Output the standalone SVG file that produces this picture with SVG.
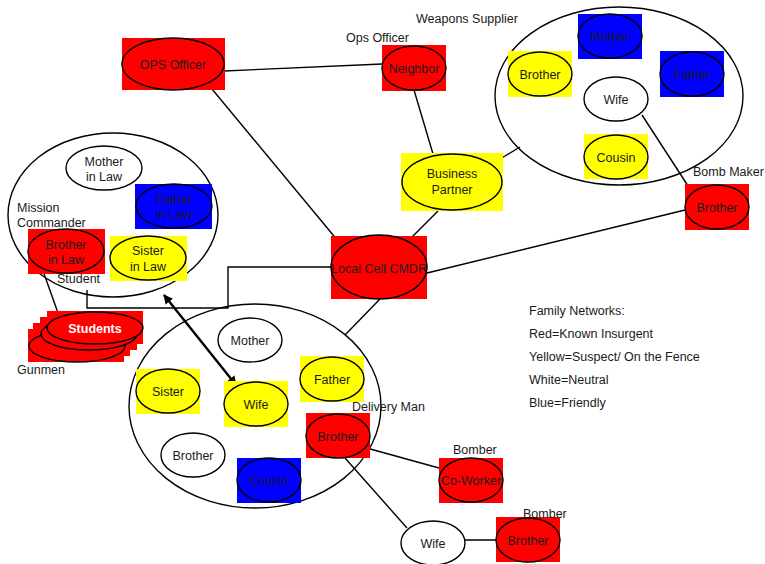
<svg xmlns="http://www.w3.org/2000/svg" width="765" height="564" viewBox="0 0 765 564">
  <defs>
    <style>
      text { font-family: "Liberation Sans", Arial, sans-serif; font-size: 12.5px; fill: #1a1a1a; }
      .c { text-anchor: middle; }
      .group { fill: #ffffff; stroke: #000; stroke-width: 1.4; }
      .node { stroke: #000; stroke-width: 1.4; }
      .red { fill: #ff0000; }
      .yel { fill: #ffff00; }
      .blu { fill: #0000ff; }
      .wht { fill: #ffffff; }
      .bg { stroke: none; }
      .link { fill: none; stroke: #000; stroke-width: 1.4; }
      .thick { fill: none; stroke: #000; stroke-width: 2.4; }
      .stu { fill: #ffffff; font-weight: bold; }
    </style>
    <marker id="head" viewBox="0 0 10 10" refX="9" refY="5" markerWidth="4" markerHeight="4" orient="auto-start-reverse" markerUnits="strokeWidth">
      <path d="M0,0 L10,5 L0,10 z" fill="#000"/>
    </marker>
  </defs>

  <!-- family circles -->
  <g id="family-mission-commander">
    <ellipse class="group" cx="113" cy="215" rx="105" ry="82"/>
    <text x="17" y="212">Mission</text>
    <text x="17" y="227">Commander</text>
  </g>
  <g id="family-weapons-supplier">
    <ellipse class="group" cx="619" cy="96" rx="124" ry="89"/>
  </g>
  <g id="family-delivery">
    <ellipse class="group" cx="255" cy="406" rx="126" ry="102"/>
  </g>

  <!-- connectors -->
  <g id="connectors">
    <line class="link" x1="224" y1="71" x2="382" y2="64"/>
    <line class="link" x1="414" y1="90" x2="433" y2="154"/>
    <line class="link" x1="490" y1="165" x2="520" y2="147"/>
    <line class="link" x1="438" y1="211" x2="407" y2="242"/>
    <line class="link" x1="207" y1="83" x2="343" y2="247"/>
    <line class="link" x1="427" y1="273" x2="685" y2="210"/>
    <line class="link" x1="380" y1="299" x2="345" y2="335"/>
    <line class="link" x1="642" y1="115" x2="692" y2="192"/>
    <line class="link" x1="363" y1="447" x2="439" y2="468"/>
    <line class="link" x1="345" y1="458" x2="407" y2="528"/>
    <line class="link" x1="464" y1="540" x2="497" y2="540"/>
    <line class="link" x1="42" y1="268" x2="58" y2="313"/>
    <path class="link" d="M87,290 V308 H228 V267 H331"/>
    <line class="thick" x1="164" y1="295" x2="236" y2="385" marker-start="url(#head)" marker-end="url(#head)"/>
  </g>

  <!-- command level -->
  <g id="ops-officer">
    <rect class="bg red" x="122" y="38" width="103" height="52"/>
    <ellipse class="node red" cx="173" cy="64" rx="51" ry="26"/>
    <text class="c" x="173" y="69">OPS Officer</text>
  </g>
  <g id="neighbor">
    <rect class="bg red" x="382" y="45" width="64" height="46"/>
    <ellipse class="node red" cx="414" cy="68" rx="32" ry="22"/>
    <text class="c" x="414" y="72.5">Neighbor</text>
    <text x="346" y="42">Ops Officer</text>
  </g>
  <g id="business-partner">
    <rect class="bg yel" x="401" y="153" width="102" height="58"/>
    <ellipse class="node yel" cx="452" cy="182" rx="50" ry="28"/>
    <text class="c" x="452" y="178">Business</text>
    <text class="c" x="452" y="194">Partner</text>
  </g>
  <g id="local-cell-cmdr">
    <rect class="bg red" x="331" y="236" width="96" height="63"/>
    <ellipse class="node red" cx="379" cy="267" rx="48" ry="32"/>
    <text class="c" x="379" y="273">Local Cell CMDR</text>
  </g>

  <!-- mission commander family -->
  <g id="mother-in-law">
    <ellipse class="node wht" cx="104" cy="168" rx="38" ry="22"/>
    <text class="c" x="104" y="166">Mother</text>
    <text class="c" x="104" y="181">in Law</text>
  </g>
  <g id="father-in-law">
    <rect class="bg blu" x="135" y="184" width="77" height="45"/>
    <ellipse class="node blu" cx="174" cy="206" rx="38" ry="22"/>
    <text class="c" x="174" y="204">Father</text>
    <text class="c" x="174" y="219">in Law</text>
  </g>
  <g id="brother-in-law">
    <rect class="bg red" x="28" y="229" width="77" height="45"/>
    <ellipse class="node red" cx="66" cy="251" rx="38" ry="22"/>
    <text class="c" x="66" y="249">Brother</text>
    <text class="c" x="66" y="264">in Law</text>
  </g>
  <g id="sister-in-law">
    <rect class="bg yel" x="110" y="236" width="77" height="45"/>
    <ellipse class="node yel" cx="148" cy="258" rx="38" ry="22"/>
    <text class="c" x="148" y="255">Sister</text>
    <text class="c" x="148" y="271">in Law</text>
  </g>
  <g id="student-label">
    <text x="57" y="283">Student</text>
  </g>

  <!-- gunmen stack: stepped backgrounds, then ellipses back to front -->
  <g id="students">
    <rect class="bg red" x="28" y="329" width="96" height="33"/>
    <rect class="bg red" x="33" y="323" width="97" height="33"/>
    <rect class="bg red" x="40" y="317" width="97" height="33"/>
    <rect class="bg red" x="47" y="311" width="96" height="33"/>
    <ellipse class="node red" cx="77" cy="346" rx="48" ry="16"/>
    <ellipse class="node red" cx="89" cy="334" rx="48" ry="16"/>
    <ellipse class="node red" cx="95" cy="328" rx="48" ry="16"/>
    <text class="c stu" x="95" y="333">Students</text>
    <text x="17" y="374">Gunmen</text>
  </g>

  <!-- weapons supplier family -->
  <g id="ws-mother">
    <rect class="bg blu" x="578" y="14" width="64" height="45"/>
    <ellipse class="node blu" cx="610" cy="36" rx="32" ry="22"/>
    <text class="c" x="610" y="41">Mother</text>
    <text x="416" y="23">Weapons Supplier</text>
  </g>
  <g id="ws-brother">
    <rect class="bg yel" x="508" y="51" width="64" height="46"/>
    <ellipse class="node yel" cx="540" cy="74" rx="32" ry="22"/>
    <text class="c" x="540" y="79">Brother</text>
  </g>
  <g id="ws-father">
    <rect class="bg blu" x="660" y="51" width="64" height="46"/>
    <ellipse class="node blu" cx="692" cy="74" rx="32" ry="22"/>
    <text class="c" x="692" y="79">Father</text>
  </g>
  <g id="ws-wife">
    <ellipse class="node wht" cx="616" cy="99" rx="32" ry="22"/>
    <text class="c" x="616" y="104">Wife</text>
  </g>
  <g id="ws-cousin">
    <rect class="bg yel" x="584" y="134" width="64" height="45"/>
    <ellipse class="node yel" cx="616" cy="157" rx="32" ry="22"/>
    <text class="c" x="616" y="162">Cousin</text>
  </g>
  <g id="bomb-maker">
    <rect class="bg red" x="685" y="184" width="64" height="46"/>
    <ellipse class="node red" cx="717" cy="207" rx="32" ry="22"/>
    <text class="c" x="717" y="212">Brother</text>
    <text x="693" y="176">Bomb Maker</text>
  </g>

  <!-- delivery family -->
  <g id="d-mother">
    <ellipse class="node wht" cx="250" cy="340" rx="32" ry="22"/>
    <text class="c" x="250" y="345">Mother</text>
  </g>
  <g id="d-sister">
    <rect class="bg yel" x="136" y="369" width="64" height="45"/>
    <ellipse class="node yel" cx="168" cy="391" rx="32" ry="22"/>
    <text class="c" x="168" y="396">Sister</text>
  </g>
  <g id="d-wife">
    <rect class="bg yel" x="224" y="381" width="64" height="46"/>
    <ellipse class="node yel" cx="256" cy="404" rx="32" ry="22"/>
    <text class="c" x="256" y="409">Wife</text>
  </g>
  <g id="d-father">
    <rect class="bg yel" x="300" y="356" width="64" height="46"/>
    <ellipse class="node yel" cx="332" cy="379" rx="32" ry="22"/>
    <text class="c" x="332" y="384">Father</text>
  </g>
  <g id="d-brother">
    <ellipse class="node wht" cx="193" cy="455" rx="32" ry="22"/>
    <text class="c" x="193" y="460">Brother</text>
  </g>
  <g id="d-cousin">
    <rect class="bg blu" x="237" y="458" width="64" height="45"/>
    <ellipse class="node blu" cx="269" cy="480" rx="32" ry="22"/>
    <text class="c" x="269" y="485">Cousin</text>
  </g>
  <g id="delivery-man">
    <rect class="bg red" x="306" y="413" width="64" height="45"/>
    <ellipse class="node red" cx="338" cy="436" rx="32" ry="22"/>
    <text class="c" x="338" y="441">Brother</text>
    <text x="352" y="411">Delivery Man</text>
  </g>
  <g id="co-worker">
    <rect class="bg red" x="439" y="458" width="64" height="45"/>
    <ellipse class="node red" cx="471" cy="480" rx="32" ry="22"/>
    <text class="c" x="471" y="485">Co-Worker</text>
    <text x="453" y="454">Bomber</text>
  </g>
  <g id="d-brother-wife">
    <ellipse class="node wht" cx="433" cy="543" rx="32" ry="22"/>
    <text class="c" x="433" y="548">Wife</text>
  </g>
  <g id="bomber-brother">
    <rect class="bg red" x="496" y="517" width="64" height="45"/>
    <ellipse class="node red" cx="528" cy="540" rx="32" ry="22"/>
    <text class="c" x="528" y="545">Brother</text>
    <text x="523" y="518">Bomber</text>
  </g>

  <!-- legend -->
  <g id="legend">
    <text x="529" y="315">Family Networks:</text>
    <text x="529" y="338">Red=Known Insurgent</text>
    <text x="529" y="361">Yellow=Suspect/ On the Fence</text>
    <text x="529" y="384">White=Neutral</text>
    <text x="529" y="407">Blue=Friendly</text>
  </g>
</svg>
